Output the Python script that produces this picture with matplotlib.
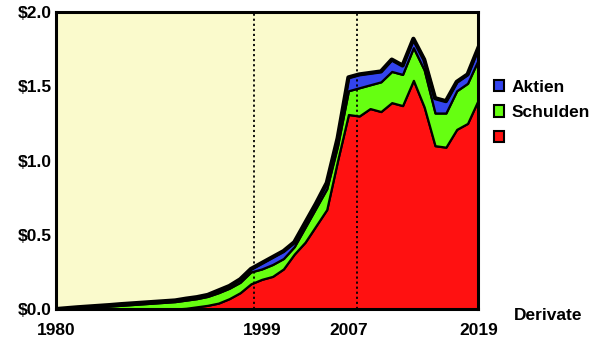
import matplotlib
matplotlib.use("Agg")
import matplotlib.pyplot as plt
from matplotlib.patches import Patch
import numpy as np

plt.rcParams['font.family'] = ['Liberation Sans', 'DejaVu Sans']

years = list(range(1980, 2020))
derivate = [0, 0, 0, 0, 0, 0, 0, 0, 0, 0, 0, 0.0,
            0.005, 0.015, 0.025, 0.04, 0.07, 0.11, 0.17, 0.20, 0.22, 0.27, 0.37,
            0.45, 0.56, 0.67, 1.00, 1.31, 1.30, 1.35, 1.33, 1.39, 1.37, 1.54,
            1.36, 1.10, 1.09, 1.21, 1.25, 1.41]
schulden = [0.0, 0.004, 0.008, 0.012, 0.016, 0.02, 0.025, 0.03, 0.035, 0.04, 0.045, 0.05,
            0.055, 0.055, 0.06, 0.07, 0.07, 0.07, 0.08, 0.07, 0.08, 0.07, 0.05,
            0.10, 0.12, 0.14, 0.10, 0.16, 0.19, 0.16, 0.20, 0.21, 0.21, 0.22,
            0.25, 0.22, 0.23, 0.26, 0.27, 0.27]
aktien = [0.0, 0.002, 0.004, 0.005, 0.006, 0.007, 0.008, 0.008, 0.008, 0.008, 0.008, 0.008,
          0.01, 0.01, 0.01, 0.015, 0.015, 0.02, 0.02, 0.04, 0.05, 0.05, 0.03,
          0.03, 0.03, 0.04, 0.05, 0.09, 0.09, 0.08, 0.07, 0.08, 0.06, 0.06,
          0.07, 0.10, 0.08, 0.06, 0.06, 0.08]
yticks = [0.0, 0.5, 1.0, 1.5, 2.0]
ytick_labels = ["$0.0", "$0.5", "$1.0", "$1.5", "$2.0"]
xticks = [1980, 1999, 2007, 2019]
marker_years = [1998.3, 2007.8]

c_red = "#FF1111"
c_green = "#66FF11"
c_blue = "#3344EE"

fig = plt.figure(figsize=(6.0, 3.54), dpi=100)
ax = fig.add_axes([0.0933, 0.127, 0.704, 0.839])
ax.set_facecolor("#FAFACC")

ax.stackplot(years, derivate, schulden, aktien,
             colors=[c_red, c_green, c_blue],
             edgecolor="black", linewidth=1.6)
total = np.array(derivate) + np.array(schulden) + np.array(aktien)
ax.plot(years, total, color="black", lw=3.0, solid_joinstyle="round")

for my in marker_years:
    ax.axvline(my, color="black", lw=1.3, ls=(0, (1.2, 1.6)), zorder=5)

ax.set_xlim(1980, 2019)
ax.set_ylim(0, 2.0)
ax.set_yticks(yticks)
ax.set_yticklabels(ytick_labels)
ax.set_xticks(xticks)
ax.set_xticklabels([str(x) for x in xticks])
ax.tick_params(axis="x", length=0, labelsize=12.5, pad=10)
ax.tick_params(axis="y", length=0, labelsize=12.5, pad=3)
for lab in ax.get_xticklabels() + ax.get_yticklabels():
    lab.set_fontweight("bold")
for sp in ax.spines.values():
    sp.set_linewidth(2.2)
    sp.set_color("black")
    sp.set_zorder(10)

handles = [Patch(facecolor=c_blue, edgecolor="black", lw=1.5),
           Patch(facecolor=c_green, edgecolor="black", lw=1.5),
           Patch(facecolor=c_red, edgecolor="black", lw=1.5)]
leg = fig.legend(handles, ["Aktien", "Schulden", ""], loc="upper left",
                 bbox_to_anchor=(0.797, 0.818), frameon=False,
                 prop={"weight": "bold", "size": 12.5},
                 handlelength=0.6, handleheight=0.6, handletextpad=0.45,
                 labelspacing=0.58)

fig.text(0.913, 0.11, "Derivate", ha="center", va="center",
         fontsize=12.5, fontweight="bold")

fig.savefig("out.png", dpi=100)
